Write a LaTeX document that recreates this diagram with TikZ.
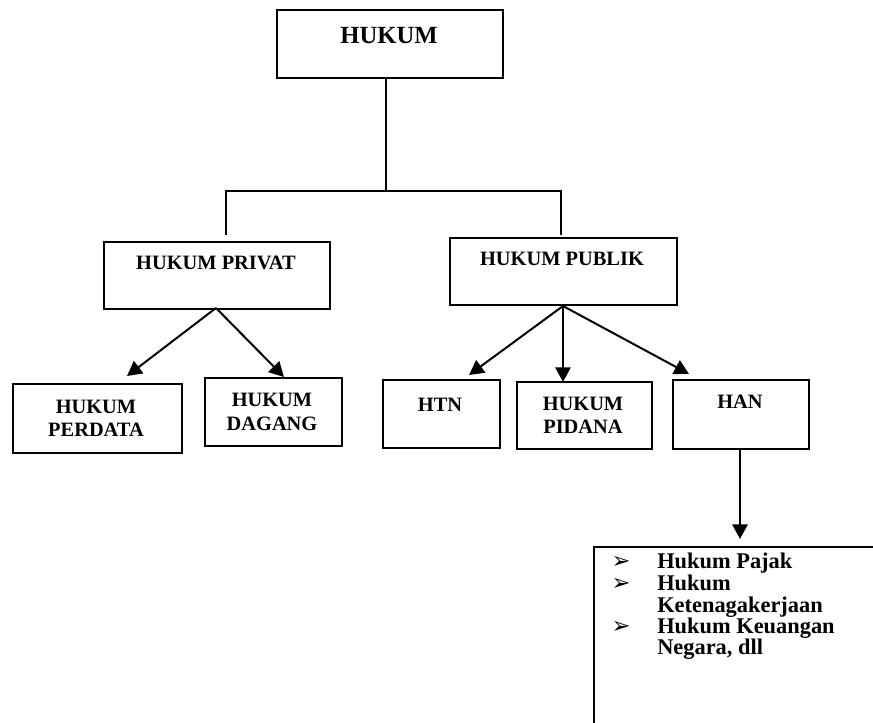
\documentclass[tikz,border=0pt]{standalone}
\usepackage{fontspec}
\setmainfont{Liberation Serif}
\newfontfamily\symfont{DejaVu Sans}
\usetikzlibrary{arrows.meta}
\begin{document}
\begin{tikzpicture}[x=0.75pt,y=-0.75pt,
  box/.style={draw,line width=1.5pt,inner sep=0pt,anchor=north west},
  lbl/.style={anchor=base,inner sep=0pt,font=\bfseries\fontsize{15.3}{17}\selectfont},
  big/.style={anchor=base,inner sep=0pt,font=\bfseries\fontsize{18.5}{22}\selectfont},
  item/.style={anchor=base west,inner sep=0pt,font=\bfseries\fontsize{16.8}{19}\selectfont},
  bullet/.style={anchor=base,inner sep=0pt,font=\symfont\fontsize{17}{19}\selectfont},
  link/.style={line width=1.5pt},
  arr/.style={line width=1.5pt,-{Triangle[length=11pt,width=11.5pt]}}]
\useasboundingbox (0,0) rectangle (873,723);

% boxes
\node[box,minimum width=226*0.75pt,minimum height=68*0.75pt] (hukum) at (276,9) {};
\node[box,minimum width=226*0.75pt,minimum height=67*0.75pt] (privat) at (103,241) {};
\node[box,minimum width=227*0.75pt,minimum height=67*0.75pt] (publik) at (449,237) {};
\node[box,minimum width=169*0.75pt,minimum height=69*0.75pt] (perdata) at (12,383) {};
\node[box,minimum width=137*0.75pt,minimum height=68*0.75pt] (dagang) at (204,377) {};
\node[box,minimum width=117*0.75pt,minimum height=68*0.75pt] (htn) at (382,379) {};
\node[box,minimum width=135*0.75pt,minimum height=67*0.75pt] (pidana) at (516,381) {};
\node[box,minimum width=136*0.75pt,minimum height=69*0.75pt] (han) at (672,379) {};
\begin{scope}
  \clip (0,0) rectangle (873,723);
  \node[box,minimum width=320*0.75pt,minimum height=220*0.75pt] (daftar) at (593,546) {};
\end{scope}

% labels
\node[big] (tHukum) at (389,44) {HUKUM};
\node[lbl] (tPrivat) at (216,270) {HUKUM PRIVAT};
\node[lbl] (tPublik) at (562,266) {HUKUM PUBLIK};
\node[lbl] (tPerdataA) at (96,413) {HUKUM};
\node[lbl] (tPerdataB) at (96,436) {PERDATA};
\node[lbl] (tDagangA) at (272,406) {HUKUM};
\node[lbl] (tDagangB) at (272,430) {DAGANG};
\node[lbl] (tHtn) at (440,411) {HTN};
\node[lbl] (tPidanaA) at (583,410) {HUKUM};
\node[lbl] (tPidanaB) at (583,433) {PIDANA};
\node[lbl] (tHan) at (740,408) {HAN};

% list of examples
\node[bullet] (b1) at (621,568) {➢};
\node[bullet] (b2) at (621,590) {➢};
\node[bullet] (b3) at (621,633) {➢};
\node[item] (i1) at (657,568) {Hukum Pajak};
\node[item] (i2) at (657,590) {Hukum};
\node[item] (i3) at (657,612) {Ketenagakerjaan};
\node[item] (i4) at (657,633) {Hukum Keuangan};
\node[item] (i5) at (657,654) {Negara, dll};

% tree lines
\coordinate (jm) at (386,191);
\coordinate (jl) at (226,191);
\coordinate (jr) at (561,191);
\coordinate (dl) at (226,235);
\coordinate (dr) at (561,235);
\draw[link] (hukum.south -| jm) -- (jm);
\draw[link] (dl) -- (jl) -- (jr) -- (dr);

% arrows
\coordinate (srcPriv) at (216,308);
\coordinate (srcPub) at (563,306);
\coordinate (tipPerdata) at (127,376);
\coordinate (tipDagang) at (284,377);
\coordinate (tipHtn) at (469,375);
\coordinate (tipPidana) at (563,382);
\coordinate (tipHan) at (689,374);
\coordinate (srcHan) at (740,448);
\coordinate (tipDaftar) at (740,539);
\draw[arr] (srcPriv) -- (tipPerdata);
\draw[arr] (srcPriv) -- (tipDagang);
\draw[arr] (srcPub) -- (tipHtn);
\draw[arr] (srcPub) -- (tipPidana);
\draw[arr] (srcPub) -- (tipHan);
\draw[arr] (srcHan) -- (tipDaftar);
\end{tikzpicture}
\end{document}
